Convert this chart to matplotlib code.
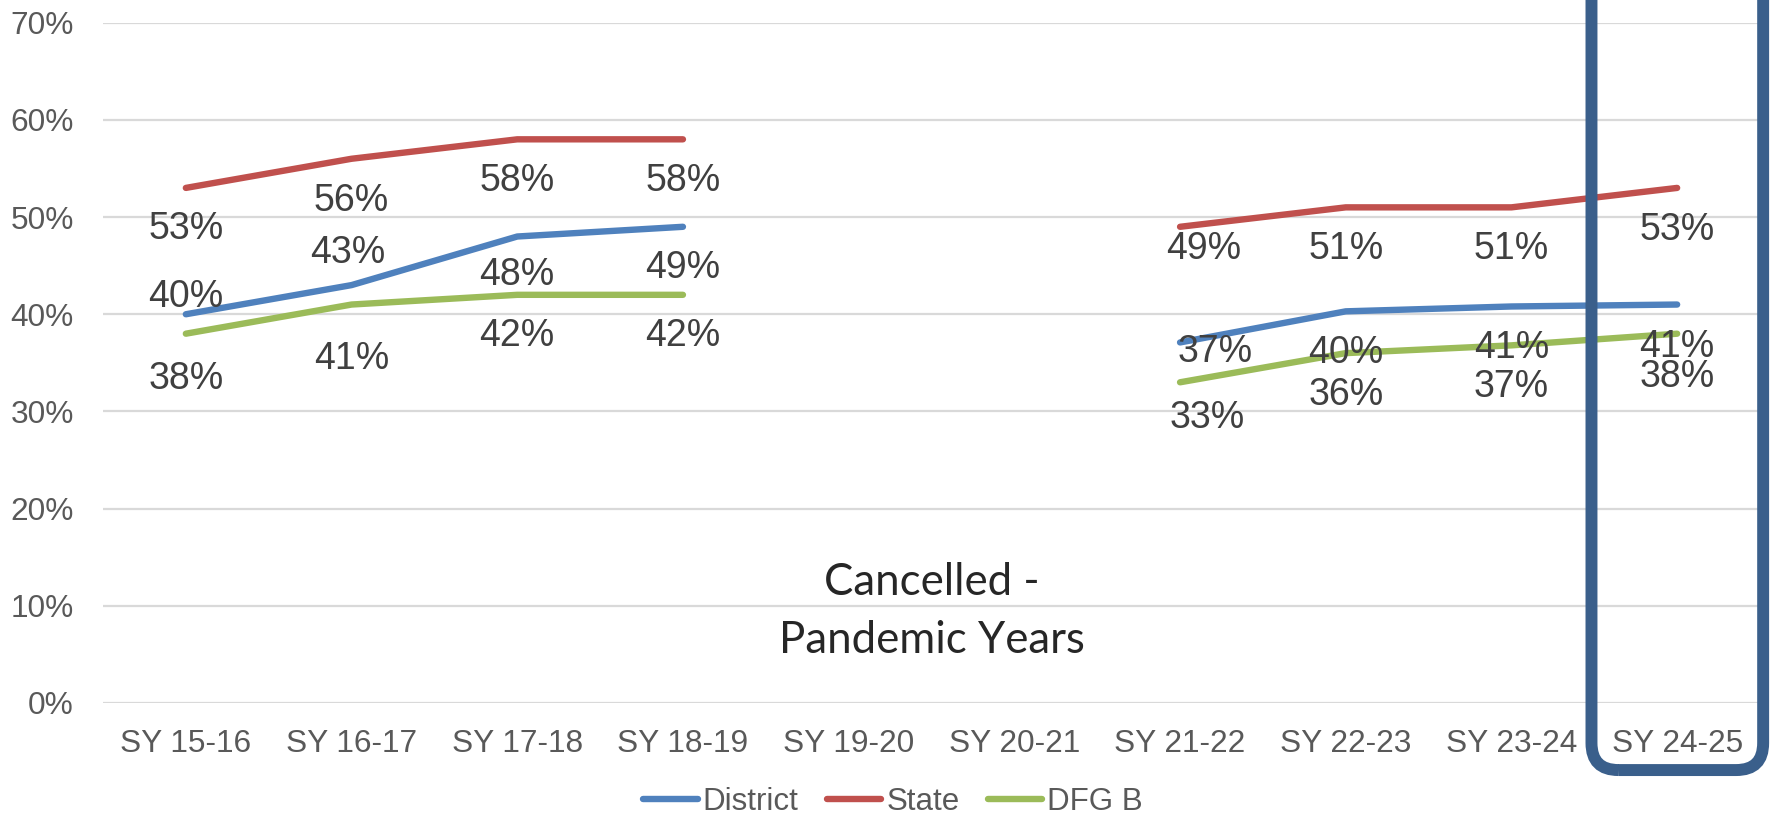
import matplotlib.pyplot as plt
from matplotlib.patches import FancyBboxPatch
from matplotlib.ticker import PercentFormatter
import numpy as np

years = ["SY 15-16", "SY 16-17", "SY 17-18", "SY 18-19", "SY 19-20",
         "SY 20-21", "SY 21-22", "SY 22-23", "SY 23-24", "SY 24-25"]
district = [0.40, 0.43, 0.48, 0.49, None, None, 0.371, 0.403, 0.408, 0.410]
state = [0.53, 0.56, 0.58, 0.58, None, None, 0.49, 0.51, 0.51, 0.53]
dfg_b = [0.38, 0.41, 0.42, 0.42, None, None, 0.33, 0.36, 0.368, 0.38]

# label offsets in pixels (dx, dy down), hand placed like the original
district_off = [(0, -17), (-4, -32), (0, 38), (0, 41), None, None, (35, 10), (0, 42), (0, 42), (0, 42)]
state_off = [(0, 41), (0, 42), (0, 42), (0, 42), None, None, (24, 22), (0, 42), (0, 42), (0, 42)]
dfg_off = [(0, 45), (0, 54), (0, 41), (0, 41), None, None, (27, 36), (0, 42), (0, 42), (0, 43)]

series = [
    ("District", district, district_off, "#4F81BD"),
    ("State", state, state_off, "#C0504D"),
    ("DFG B", dfg_b, dfg_off, "#9BBB59"),
]

plt.rcParams["font.family"] = ["Liberation Sans", "DejaVu Sans"]

W, H = 1777, 814
fig = plt.figure(figsize=(W / 100, H / 100), dpi=100)
ax = fig.add_axes([103 / W, 1 - 703 / H, 1657 / W, 680.3 / H])

x = np.arange(len(years))
for name, vals, offs, col in series:
    y = np.array([np.nan if v is None else v for v in vals])
    ax.plot(x, y, color=col, lw=4.6, solid_capstyle="round", label=name, zorder=3)
    for xi, v, off in zip(x, vals, offs):
        if v is None:
            continue
        ax.annotate(f"{round(v * 100)}%", (xi, v), xytext=(off[0], -off[1]),
                    textcoords="offset pixels", ha="center", va="center",
                    fontsize=27, color="#404040", zorder=4)

ax.set_xlim(-0.5, len(years) - 0.5)
ax.set_ylim(0, 0.7)
ax.set_yticks(np.arange(0, 0.71, 0.1))
ax.yaxis.set_major_formatter(PercentFormatter(1.0, decimals=0))
ax.set_xticks(x)
ax.set_xticklabels(years)
ax.tick_params(axis="both", length=0, labelsize=22.8, labelcolor="#595959")
ax.tick_params(axis="x", pad=19)
ax.tick_params(axis="y", pad=21)
ax.grid(axis="y", color="#D9D9D9", lw=1.6)
ax.set_axisbelow(True)
for s in ax.spines.values():
    s.set_visible(False)

ax.text(4.5, 0.1235, "Cancelled -", ha="center", va="center", fontsize=31.5,
        family="Lato", color="#262626")
ax.text(4.5, 0.0640, "Pandemic Years", ha="center", va="center", fontsize=31.5,
        family="Lato", color="#262626")

# highlight box around last school year
fig.canvas.draw()
(x0, y0) = ax.transData.transform((8.483, -0.069))
(x1, _) = ax.transData.transform((9.519, 0))
box = FancyBboxPatch((x0, y0), x1 - x0, H + 100 - y0,
                     boxstyle="round,pad=0,rounding_size=27",
                     transform=None, fill=False, ec="#3A5F8B", lw=8.6,
                     clip_on=False, zorder=5)
fig.patches.append(box)

fig.legend(loc="center", bbox_to_anchor=(893 / W, 1 - 802 / H), ncol=3,
           frameon=False, fontsize=22.5, handlelength=1.75, handletextpad=0.16,
           columnspacing=0.9, labelcolor="#595959")

fig.savefig("out.png", dpi=100)
